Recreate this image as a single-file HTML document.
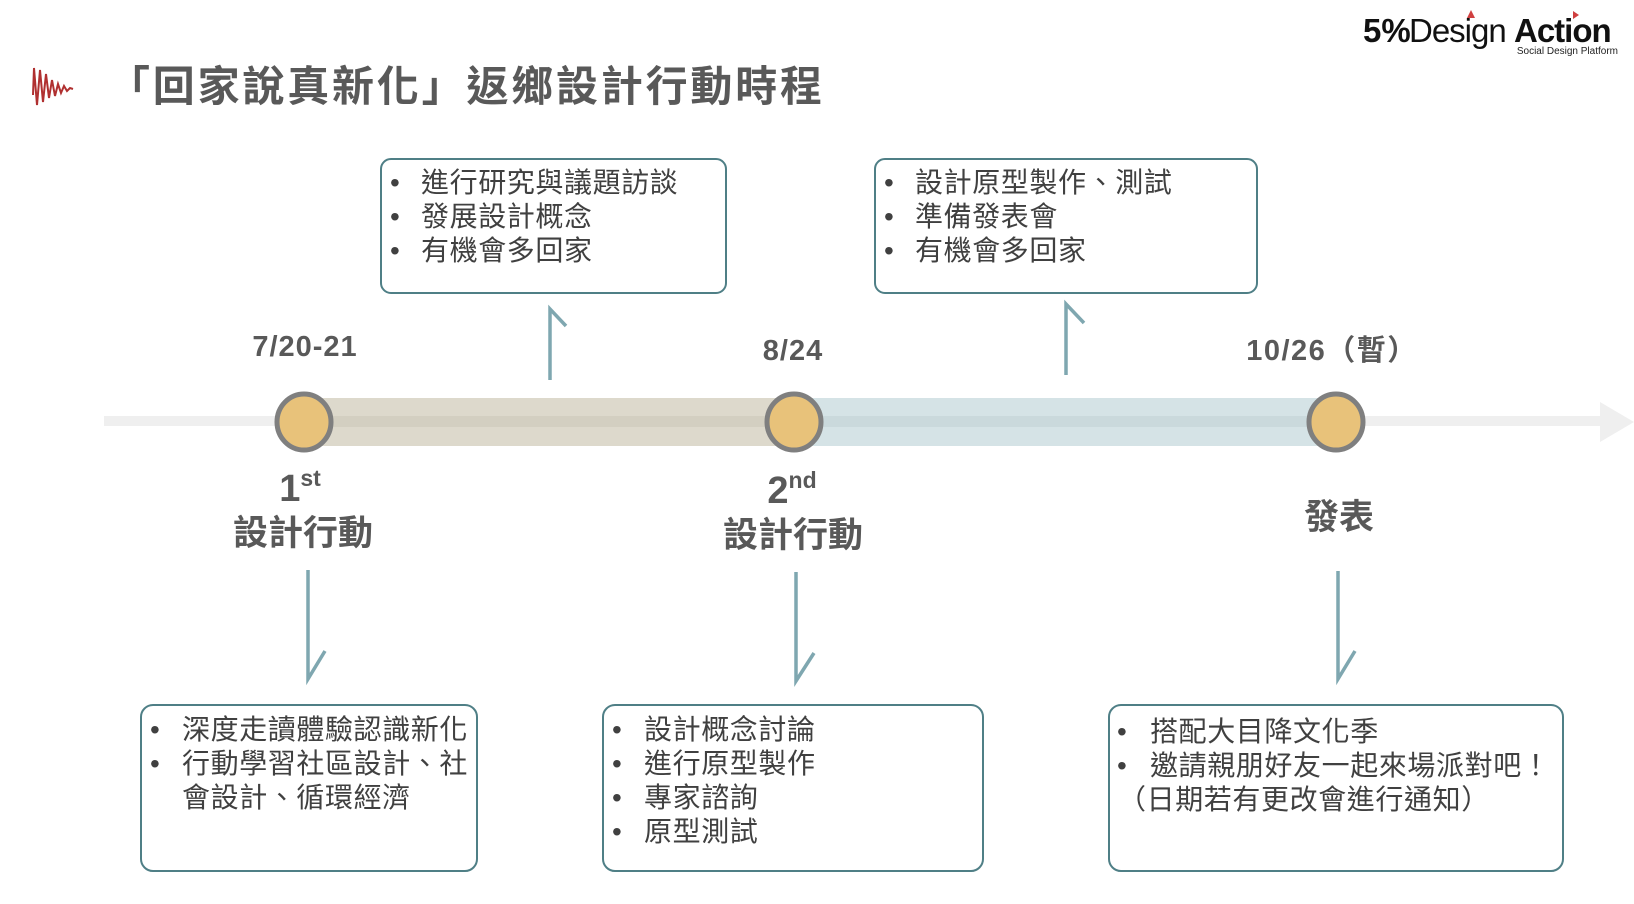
<!DOCTYPE html>
<html><head><meta charset="utf-8"><style>
html,body{margin:0;padding:0;background:#fff;}
svg{display:block;}
text{font-family:"Liberation Sans","Noto Sans CJK TC",sans-serif;}
.t{font-size:28px;fill:#404040;letter-spacing:0.6px;}
.b{font-weight:bold;fill:#595959;}
</style></head><body>
<svg width="1634" height="904" viewBox="0 0 1634 904" xmlns="http://www.w3.org/2000/svg">
<path d="M33 95 L34 68 L37 105 L40 70 L43 102 L46 74 L49 98 L52 80 L55 96 L58 84 L61 93 L64 86 L67 91 L70 88 L73 89" fill="none" stroke="#b03030" stroke-width="2"/>
<text x="108" y="101" class="b" font-size="42" letter-spacing="2.8">「回家說真新化」返鄉設計行動時程</text>
<text x="1363" y="42" font-size="33" font-weight="bold" fill="#111">5%</text>
<text x="1409" y="42" font-size="33" fill="#111" letter-spacing="-1">Design</text>
<text x="1514" y="42" font-size="33" font-weight="bold" fill="#111" letter-spacing="-1">Action</text>
<text x="1618" y="54" font-size="10" fill="#222" text-anchor="end">Social Design Platform</text>
<polygon points="1471,10 1467,18 1475,18" fill="#d04040"/>
<polygon points="1573,11 1573,19 1579,15" fill="#d04040"/>
<rect x="104" y="416" width="1500" height="10" fill="#efefef"/>
<polygon points="1600,402 1634,422 1600,442" fill="#efefef"/>
<rect x="304" y="398" width="490" height="48" fill="#ddd9cc"/>
<rect x="304" y="416" width="490" height="11" fill="#d3cfc1"/>
<rect x="794" y="398" width="543" height="48" fill="#d5e3e6"/>
<rect x="794" y="416" width="543" height="11" fill="#cad9dc"/>
<g fill="#e8c27a" stroke="#7f7f7f" stroke-width="5">
<ellipse cx="304" cy="422" rx="27" ry="28"/>
<ellipse cx="794" cy="422" rx="27" ry="28"/>
<ellipse cx="1336" cy="422" rx="27" ry="28"/>
</g>
<g class="b" font-size="29" text-anchor="middle">
<text x="305" y="356" letter-spacing="1">7/20-21</text>
<text x="793" y="360" letter-spacing="1">8/24</text>
<text x="1332" y="360" letter-spacing="1.5">10/26（暫）</text>
</g>
<g class="b" font-size="35" text-anchor="middle">
<text x="300" y="501" font-size="38">1<tspan font-size="23" dy="-15">st</tspan></text>
<text x="303" y="545">設計行動</text>
<text x="792" y="503" font-size="38">2<tspan font-size="23" dy="-15">nd</tspan></text>
<text x="793" y="547">設計行動</text>
<text x="1339" y="529">發表</text>
</g>
<g fill="none" stroke="#7fa7b0" stroke-width="3.5">
<path d="M550 380 L550 309 L566 326"/>
<path d="M1066 375 L1066 304 L1084 323"/>
<path d="M308 570 L308 679 L325 651"/>
<path d="M796 572 L796 681 L814 653"/>
<path d="M1338 571 L1338 679 L1355 651"/>
</g>
<g fill="#fff" stroke="#4f7f86" stroke-width="2">
<rect x="381" y="159" width="345" height="134" rx="10"/>
<rect x="875" y="159" width="382" height="134" rx="10"/>
<rect x="141" y="705" width="336" height="166" rx="12"/>
<rect x="603" y="705" width="380" height="166" rx="12"/>
<rect x="1109" y="705" width="454" height="166" rx="12"/>
</g>
<g class="t">
<text x="390" y="192">•</text><text x="421" y="192">進行研究與議題訪談</text>
<text x="390" y="226">•</text><text x="421" y="226">發展設計概念</text>
<text x="390" y="260">•</text><text x="421" y="260">有機會多回家</text>
<text x="884" y="192">•</text><text x="915" y="192">設計原型製作、測試</text>
<text x="884" y="226">•</text><text x="915" y="226">準備發表會</text>
<text x="884" y="260">•</text><text x="915" y="260">有機會多回家</text>
<text x="150" y="739">•</text><text x="182" y="739">深度走讀體驗認識新化</text>
<text x="150" y="773">•</text><text x="182" y="773">行動學習社區設計、社</text>
<text x="182" y="807">會設計、循環經濟</text>
<text x="612" y="739">•</text><text x="644" y="739">設計概念討論</text>
<text x="612" y="773">•</text><text x="644" y="773">進行原型製作</text>
<text x="612" y="807">•</text><text x="644" y="807">專家諮詢</text>
<text x="612" y="841">•</text><text x="644" y="841">原型測試</text>
<text x="1117" y="741">•</text><text x="1150" y="741">搭配大目降文化季</text>
<text x="1117" y="775">•</text><text x="1150" y="775">邀請親朋好友一起來場派對吧！</text>
<text x="1118" y="809">（日期若有更改會進行通知）</text>
</g>
</svg>
</body></html>
